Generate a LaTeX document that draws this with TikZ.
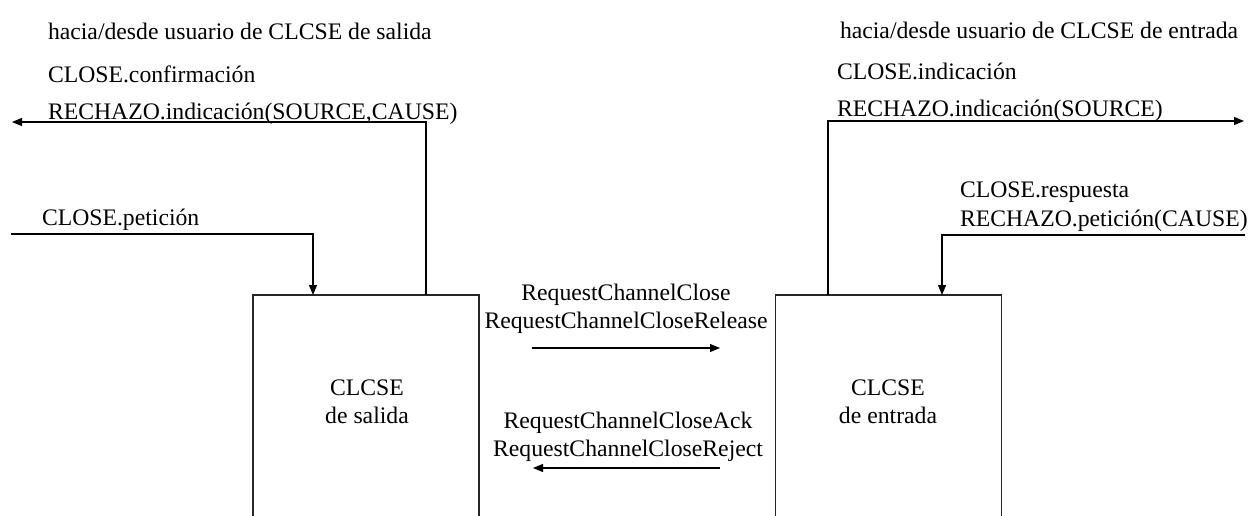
\documentclass[tikz,border=0pt]{standalone}
\usepackage{fontspec}
\setmainfont{Liberation Serif}
\usetikzlibrary{arrows.meta}
\begin{document}
\begin{tikzpicture}[x=1pt,y=-1pt,
  txt/.style={inner sep=0pt,outer sep=0pt,font=\fontsize{23.7}{28}\selectfont},
  lbl/.style={txt,anchor=base west},
  ctr/.style={txt,anchor=base},
  entity/.style={inner sep=0pt,outer sep=0pt,minimum width=226pt,minimum height=230pt},
  conn/.style={line width=1.1pt,black},
  arr/.style={conn,-{Triangle[length=10pt,width=8pt]}},
  side/.style={line width=1.2pt,black!85}]
\useasboundingbox (0,0) rectangle (1257,515);

% titles
\node[lbl] (tl) at (48,39) {hacia/desde usuario de CLCSE de salida};
\node[lbl] (tr) at (840,38) {hacia/desde usuario de CLCSE de entrada};

% entities (open at the bottom)
\node[entity] (sal) at (366,410) {};
\node[entity] (ent) at (888.5,410) {};
\draw[side] (sal.south west) -- (sal.north west) -- (sal.north east) -- (sal.south east);
\draw[side] (ent.south west) -- (ent.north west) -- (ent.north east) -- (ent.south east);
\node[ctr] (salt1) at (367,395) {CLCSE};
\node[ctr] (salt2) at (367,423) {de salida};
\node[ctr] (entt1) at (888,395) {CLCSE};
\node[ctr] (entt2) at (888,423) {de entrada};

% user-side labels
\node[lbl] (conf1) at (48,82) {CLOSE.confirmación};
\node[lbl] (conf2) at (48,119) {RECHAZO.indicación(SOURCE,CAUSE)};
\node[lbl] (pet) at (42,225) {CLOSE.petición};
\node[lbl] (ind1) at (837,79) {CLOSE.indicación};
\node[lbl] (ind2) at (837,116) {RECHAZO.indicación(SOURCE)};
\node[lbl] (resp1) at (960,197) {CLOSE.respuesta};
\node[lbl] (resp2) at (960,226) {RECHAZO.petición(CAUSE)};

% user connectors
\coordinate (confEnd) at (12,122);
\coordinate (confCorner) at (426,122);
\draw[arr] (sal.north -| confCorner) -- (confCorner) -- (confEnd);

\coordinate (petStart) at (11,234);
\coordinate (petCorner) at (313,234);
\draw[arr] (petStart) -- (petCorner) -- (sal.north -| petCorner);

\coordinate (indEnd) at (1244,121);
\coordinate (indCorner) at (828,121);
\draw[arr] (ent.north -| indCorner) -- (indCorner) -- (indEnd);

\coordinate (respStart) at (1245,235);
\coordinate (respCorner) at (942,235);
\draw[arr] (respStart) -- (respCorner) -- (ent.north -| respCorner);

% peer messages
\node[ctr] (req1) at (626,300) {RequestChannelClose};
\node[ctr] (req2) at (626,328) {RequestChannelCloseRelease};
\node[ctr] (ack1) at (628,428) {RequestChannelCloseAck};
\node[ctr] (ack2) at (628,456) {RequestChannelCloseReject};
\coordinate (reqA) at (532,348);
\coordinate (reqB) at (720,348);
\draw[arr] (reqA) -- (reqB);
\coordinate (ackA) at (720,468);
\coordinate (ackB) at (533,468);
\draw[arr] (ackA) -- (ackB);
\end{tikzpicture}
\end{document}
